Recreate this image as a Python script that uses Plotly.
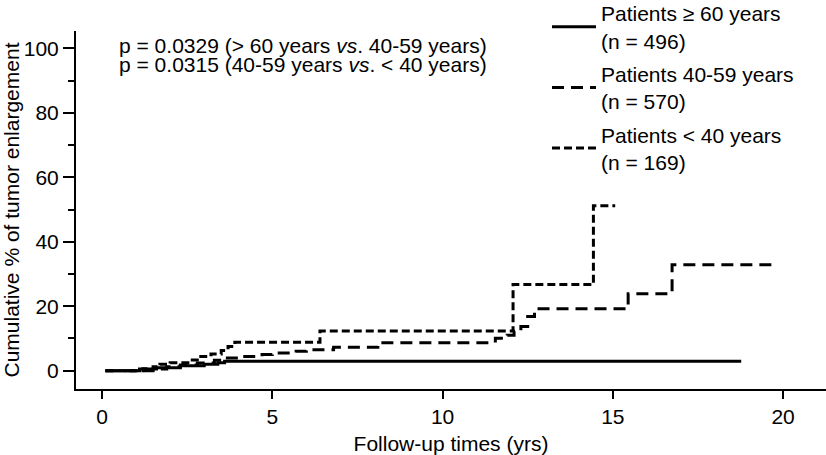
import plotly.graph_objects as go

# ---- data ----
t_ge60 = [0.1, 1.1, 1.6, 2.3, 3.0, 3.4, 3.6, 18.77]
c_ge60 = [0, 0.5, 0.9, 1.5, 2.0, 2.5, 2.9, 2.9]

t_40_59 = [0.1, 1.5, 1.9, 2.3, 2.8, 3.3, 3.6, 4.0, 4.7, 5.0, 5.7, 6.0, 6.8, 8.1,
           11.55, 11.9, 12.1, 12.3, 12.5, 12.7, 15.45, 16.74, 19.85]
c_40_59 = [0, 0.5, 1.2, 1.8, 2.4, 3.2, 3.9, 4.4, 5.0, 5.5, 6.0, 6.5, 7.3, 8.7,
           10.1, 11.0, 12.2, 13.7, 16.8, 19.2, 23.9, 32.9, 32.9]

t_lt40 = [0.1, 1.2, 1.5, 1.7, 2.0, 2.6, 2.9, 3.2, 3.5, 3.7, 3.9, 6.4, 12.07, 14.43, 15.07]
c_lt40 = [0, 0.6, 1.2, 2.0, 2.5, 3.3, 4.4, 5.2, 6.3, 7.5, 8.8, 12.3, 26.7, 51.2, 51.2]

series_names = ["Patients \u2265 60 years<br>(n = 496)",
                "Patients 40-59 years<br>(n = 570)",
                "Patients &lt; 40 years<br>(n = 169)"]
x_ticks = [0, 5, 10, 15, 20]
y_ticks = [0, 20, 40, 60, 80, 100]
p_texts = ["p = 0.0329 (&gt; 60 years <i>vs</i>. 40-59 years)",
           "p = 0.0315 (40-59 years <i>vs</i>. &lt; 40 years)"]

FONT = "Liberation Sans, Arial, Helvetica, sans-serif"
FS = 21

fig = go.Figure()
styles = ["solid", "12px,7px", "8px,4px"]
for i, (t, c) in enumerate([(t_ge60, c_ge60), (t_40_59, c_40_59), (t_lt40, c_lt40)]):
    fig.add_trace(go.Scatter(
        x=t, y=c, mode="lines", line=dict(shape="hv", color="black", width=3, dash=styles[i]),
        name=series_names[i], legendgroup=f"g{i}", showlegend=True))

W, H = 826, 455
L, R, T, B = 76, 0, 31, 66
pw, ph = W - L - R, H - T - B

def px_x(p):
    return (p - L) / pw

def px_y(p):
    return (H - B - p) / ph

fig.update_layout(
    width=W, height=H,
    margin=dict(l=L, r=R, t=T, b=B, autoexpand=False),
    paper_bgcolor="white", plot_bgcolor="white",
    font=dict(family=FONT, size=FS, color="black"),
    showlegend=True,
    legend=dict(x=px_x(547), y=px_y(-7), xanchor="left", yanchor="top",
                font=dict(size=FS, family=FONT, color="black"),
                itemwidth=44, tracegroupgap=3, traceorder="grouped",
                bgcolor="rgba(0,0,0,0)", borderwidth=0, valign="middle"),
    xaxis=dict(range=[-0.764, 21.26], tickvals=x_ticks, ticks="outside", ticklen=8,
               tickwidth=2, tickcolor="black", showline=True, linewidth=2, linecolor="black",
               showgrid=False, zeroline=False, tickfont=dict(size=FS),
               title=dict(text="Follow-up times (yrs)", font=dict(size=FS), standoff=13),
               automargin=False),
    yaxis=dict(range=[-5.68, 105.37], tickvals=y_ticks, ticks="outside", ticklen=11,
               tickwidth=2, tickcolor="black", showline=True, linewidth=2, linecolor="black",
               showgrid=False, zeroline=False, tickfont=dict(size=FS),
               minor=dict(dtick=10, tick0=0, ticks="outside", ticklen=6, tickwidth=2, tickcolor="black"),
               title=dict(text="Cumulative % of tumor enlargement", font=dict(size=FS), standoff=6),
               automargin=False),
)

for txt, yp in zip(p_texts, [45, 64]):
    fig.add_annotation(text=txt, xref="paper", yref="paper", x=px_x(117), y=px_y(yp),
                       xanchor="left", yanchor="middle", showarrow=False,
                       font=dict(size=FS, family=FONT, color="black"))

fig.write_html("out.html", config={"displayModeBar": False},
               post_script="document.body.style.margin='0px';")
